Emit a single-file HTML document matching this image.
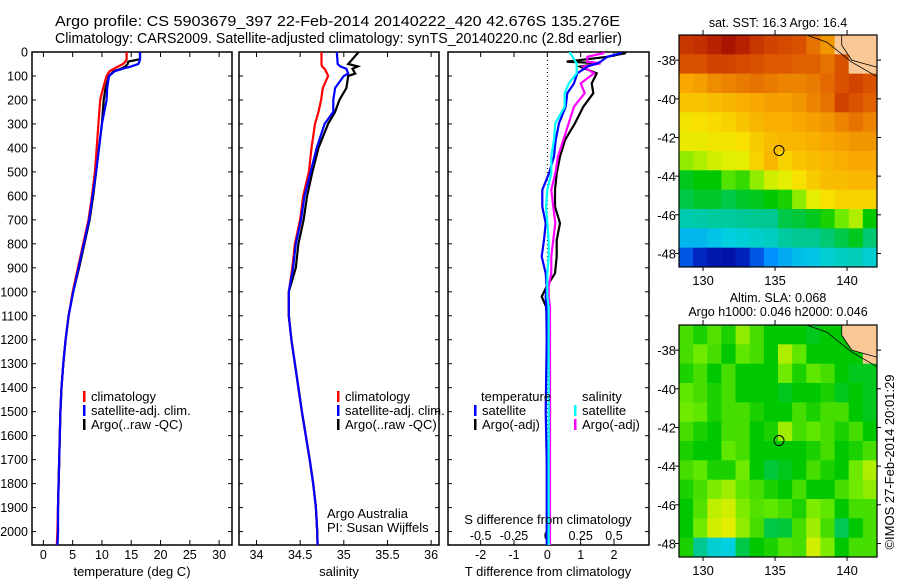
<!DOCTYPE html>
<html><head><meta charset="utf-8"><style>
html,body{margin:0;padding:0;background:#fff;}
svg{display:block;font-family:"Liberation Sans",sans-serif;}
</style></head><body>
<svg id="fig" width="900" height="580" viewBox="0 0 900 580" xmlns="http://www.w3.org/2000/svg">
<defs>
<clipPath id="clipMap1"><rect x="679" y="35" width="198" height="232"/></clipPath>
<clipPath id="clipMap2"><rect x="679" y="325" width="198" height="232"/></clipPath>
</defs>
<text x="55" y="26" font-size="14.5" textLength="565" lengthAdjust="spacingAndGlyphs">Argo profile: CS 5903679_397 22-Feb-2014 20140222_420 42.676S 135.276E</text>
<text x="55" y="43" font-size="14.5" textLength="567" lengthAdjust="spacingAndGlyphs">Climatology: CARS2009. Satellite-adjusted climatology: synTS_20140220.nc (2.8d earlier)</text>
<g id="g"></g>
</svg>
<script>
// ---- depth grids ----
const depthsT = [0,30,40,50,60,70,80,100,150,200,300,400,500,600,700,800,900,1000,1100,1200,1300,1400,1500,1600,1700,1800,1900,2000,2056];
const tempClim = [14.2,14.2,14.0,13.6,12.8,12.0,11.3,10.8,10.2,9.7,9.4,9.1,8.8,8.3,7.7,6.8,5.9,5.0,4.3,3.8,3.4,3.1,2.9,2.8,2.7,2.6,2.5,2.4,2.3];
const tempSat  = [16.5,16.5,16.4,16.2,15.0,13.5,12.2,11.2,10.9,10.8,10.0,9.5,9.0,8.4,7.8,6.9,6.0,5.1,4.3,3.8,3.4,3.1,2.9,2.8,2.7,2.6,2.5,2.5,2.4];
const tempArgo = [16.5,16.5,14.5,14.4,14.0,13.2,12.0,11.2,10.6,10.3,10.0,9.5,9.0,8.5,7.9,7.0,6.1,5.1,4.3,3.8,3.4,3.1,2.9,2.8,2.7,2.6,2.5,2.5,2.4];
const depthsS = [0,50,60,70,90,100,150,200,250,300,400,500,600,700,800,900,1000,1100,1200,1300,1400,1500,1600,1700,1800,1900,2000,2056];
const salClim = [34.745,34.745,34.75,34.78,34.81,34.82,34.76,34.74,34.71,34.67,34.63,34.60,34.535,34.50,34.44,34.41,34.37,34.37,34.40,34.44,34.48,34.52,34.565,34.61,34.65,34.68,34.695,34.70];
const salSat  = [34.92,34.93,34.96,35.03,35.05,35.0,34.90,34.88,34.88,34.78,34.69,34.62,34.55,34.51,34.45,34.42,34.37,34.37,34.40,34.44,34.48,34.52,34.565,34.61,34.65,34.68,34.695,34.70];
const salArgo = [35.17,35.05,35.16,35.10,35.13,35.05,35.03,34.95,34.90,34.82,34.71,34.64,34.58,34.54,34.48,34.45,34.37,34.37,34.40,34.44,34.48,34.52,34.565,34.61,34.65,34.68,34.695,34.70];
// differences
const depthsD = [0,5,20,40,47,61,89,131,172,228,297,367,436,506,575,645,714,784,853,923,978,1020,1061,1200,1500,1700,2056];
const dTArgo = [2.33,2.33,1.8,0.58,1.58,0.98,1.48,1.33,1.38,1.08,0.83,0.53,0.38,0.28,0.23,0.23,0.38,0.28,0.28,0.23,-0.02,-0.17,-0.04,0.05,0.08,0.06,0.05];
const dTSat  = [2.2,2.2,1.8,1.6,1.5,1.2,0.9,0.8,0.6,0.55,0.35,0.25,0.2,0.05,-0.15,-0.15,-0.05,-0.1,-0.17,-0.05,-0.02,-0.05,-0.03,-0.02,-0.05,-0.02,-0.02];
const dSArgo = [0.42,0.42,0.30,0.30,0.40,0.27,0.35,0.25,0.28,0.20,0.16,0.12,0.08,0.06,0.03,0.045,0.06,0.045,0.03,0.03,0.01,0.01,0.02,0.02,0.02,0.02,0.02];
const dSSat  = [0.17,0.17,0.19,0.21,0.22,0.22,0.22,0.16,0.13,0.13,0.06,0.05,0.03,0.03,0.0,-0.01,0.0,0.01,0.01,0.0,0.0,0.0,0.01,0.01,0.01,0.01,0.01];
// tick labels
const depthTicks = [0,100,200,300,400,500,600,700,800,900,1000,1100,1200,1300,1400,1500,1600,1700,1800,1900,2000];
const tempTicks = [0,5,10,15,20,25,30];
const salTicks = [34,34.5,35,35.5,36];
const dTTicks = [-2,-1,0,1,2];
const dSTicks = [-0.5,-0.25,0,0.25,0.5];
const lonTicks = [130,135,140];
const latTicks = [-38,-40,-42,-44,-46,-48];
// map grids (1 deg cells, lon 128.3..142.3, lat -36.7..-48.7), colour index 0..1, -1 land
const sstGrid = [
[.92,.93,.95,.97,.95,.92,.9,.89,.88,.84,.8,-1,-1,-1],
[.88,.88,.9,.9,.89,.88,.87,.87,.86,.86,.84,.88,-1,-1],
[.78,.79,.81,.82,.83,.84,.83,.82,.82,.83,.85,.88,.9,.88],
[.74,.74,.75,.76,.77,.78,.79,.79,.8,.82,.84,.9,.88,.86],
[.69,.7,.71,.72,.74,.76,.77,.77,.78,.79,.8,.82,.84,.82],
[.67,.67,.68,.69,.7,.73,.75,.76,.76,.77,.78,.79,.8,.8],
[.6,.62,.64,.65,.66,.72,.76,.72,.74,.75,.76,.77,.78,.78],
[.48,.5,.5,.56,.54,.6,.64,.66,.7,.73,.75,.75,.76,.76],
[.45,.47,.47,.45,.47,.48,.5,.52,.6,.66,.7,.72,.72,.72],
[.36,.37,.38,.38,.39,.4,.4,.45,.46,.48,.52,.58,.62,.5],
[.26,.26,.28,.3,.31,.33,.34,.38,.4,.4,.42,.45,.48,.42],
[.14,.08,.05,.04,.07,.14,.2,.24,.27,.28,.32,.34,.35,.32]];
const slaGrid = [
[.55,.52,.56,.52,.6,.55,.5,.5,.5,.48,.5,.5,-1,-1],
[.55,.58,.55,.5,.57,.55,.5,.62,.57,.5,.5,.5,.5,-1],
[.52,.55,.5,.55,.5,.5,.5,.58,.52,.57,.55,.5,.48,.48],
[.57,.55,.52,.55,.5,.5,.5,.48,.5,.5,.52,.48,.5,.48],
[.58,.57,.52,.55,.55,.52,.5,.5,.55,.52,.55,.55,.5,.48],
[.55,.52,.5,.55,.55,.5,.52,.61,.55,.57,.55,.52,.55,.5],
[.52,.5,.5,.57,.55,.5,.5,.5,.5,.52,.55,.5,.52,.55],
[.55,.57,.52,.52,.58,.5,.46,.48,.5,.55,.52,.5,.58,.62],
[.52,.55,.59,.61,.57,.55,.52,.5,.55,.5,.5,.55,.58,.6],
[.5,.56,.63,.64,.59,.56,.57,.55,.52,.59,.57,.5,.55,.55],
[.5,.58,.64,.66,.6,.55,.45,.46,.55,.61,.55,.44,.5,.55],
[.52,.4,.32,.3,.45,.5,.52,.56,.55,.64,.59,.5,.55,.55]];
const landLon = [139.63,139.63,140.32,141.09,142.06,142.3,142.3];
const landLat = [-36.7,-37.22,-38.0,-38.16,-38.36,-38.36,-36.7];
const coastLon = [137.2,138.6,140.32,142.3];
const coastLat = [-36.7,-37.07,-38.1,-38.95];
const argoLon = 135.276, argoLat = -42.676;

const NS="http://www.w3.org/2000/svg";
const G=document.getElementById('g');
function el(tag,attrs,parent){const e=document.createElementNS(NS,tag);for(const k in attrs)e.setAttribute(k,attrs[k]);(parent||G).appendChild(e);return e;}
function txt(s,x,y,anchor,size,parent){const t=el('text',{x:x,y:y,'text-anchor':anchor||'start','font-size':size||13},parent);t.textContent=s;return t;}

const PT=52, PB=545, DMAX=2056;
const yD=d=>PT+d*(PB-PT)/DMAX;
function panel(name,x0,x1,vmin,vmax){
  const g=el('g',{});
  
  
  const r=el('rect',{x:x0,y:PT,width:x1-x0,height:PB-PT,fill:'#fff',stroke:'#000','stroke-width':1.5},g);
  
  
  return {g:g,sx:v=>x0+(v-vmin)*(x1-x0)/(vmax-vmin),x0:x0,x1:x1};
}
function line(p,vals,depths,col,name){
  const pts=vals.map((v,i)=>p.sx(v).toFixed(1)+','+yD(depths[i]).toFixed(1)).join(' ');
  const l=el('polyline',{points:pts,fill:'none',stroke:col,'stroke-width':2.2},p.g);
  
  
}
function yticks(p,labels){
  depthTicks.forEach(d=>{
    el('line',{x1:p.x0,x2:p.x0+4,y1:yD(d),y2:yD(d),stroke:'#000'},p.g);
    el('line',{x1:p.x1-4,x2:p.x1,y1:yD(d),y2:yD(d),stroke:'#000'},p.g);
    if(labels){const t=txt(String(d),28,yD(d)+4.5,'end',12.5,p.g);
      
      }
  });
}
function xticks(p,ticks,labelY){
  ticks.forEach(v=>{
    el('line',{x1:p.sx(v),x2:p.sx(v),y1:PT,y2:PT+5,stroke:'#000'},p.g);
    el('line',{x1:p.sx(v),x2:p.sx(v),y1:PB-5,y2:PB,stroke:'#000'},p.g);
    if(labelY){const t=txt(String(v),p.sx(v),labelY,'middle',12.5,p.g);
      
      }
  });
}
function legend(p,x,y,items){
  items.forEach((it,i)=>{
    el('rect',{x:x,y:y+i*14-10,width:2.5,height:11,fill:it[1]},p.g);
    const t=txt(it[0],x+8,y+i*14,'start',13,p.g);
    
    
  });
}
// panel 1 temperature
const p1=panel('temperature-panel',32,232,-1.94,32.2);
yticks(p1,true); xticks(p1,tempTicks,559);
line(p1,tempArgo,depthsT,'#000','argo-temperature-line');
line(p1,tempClim,depthsT,'#f00','climatology-temperature-line');
line(p1,tempSat,depthsT,'#00f','satellite-temperature-line');
legend(p1,83,401,[['climatology','#f00'],['satellite-adj. clim.','#00f'],['Argo(..raw -QC)','#000']]);
let t=txt('temperature (deg C)',132,576,'middle',13);


// panel 2 salinity
const p2=panel('salinity-panel',239,439,33.80,36.09);
yticks(p2,false); xticks(p2,salTicks,559);
line(p2,salArgo,depthsS,'#000','argo-salinity-line');
line(p2,salClim,depthsS,'#f00','climatology-salinity-line');
line(p2,salSat,depthsS,'#00f','satellite-salinity-line');
legend(p2,337,401,[['climatology','#f00'],['satellite-adj. clim.','#00f'],['Argo(..raw -QC)','#000']]);
t=txt('Argo Australia',327,518,'start',13);


t=txt('PI: Susan Wijffels',327,532,'start',13);


t=txt('salinity',339,576,'middle',13);


// panel 3 differences
const p3=panel('difference-panel',448,649,-2.98,3.05);
const sxS=v=>p3.sx(v*4);
yticks(p3,false); xticks(p3,dTTicks,559);
el('line',{x1:p3.sx(0),x2:p3.sx(0),y1:PT,y2:PB,stroke:'#000','stroke-dasharray':'1,3'},p3.g);
dSTicks.forEach(v=>{const tt=txt(String(v),sxS(v),540,'middle',12.5,p3.g);
  
  });
line(p3,dTArgo,depthsD,'#000','argo-t-diff-line');
line(p3,dSArgo.map(v=>v*4),depthsD,'#f0f','argo-s-diff-line');
line(p3,dTSat,depthsD,'#00f','satellite-t-diff-line');
line(p3,dSSat.map(v=>v*4),depthsD,'#0ff','satellite-s-diff-line');
t=txt('temperature',481,401,'start',13,p3.g);
t=txt('salinity',582,401,'start',13,p3.g);
legend(p3,474,415,[['satellite','#00f'],['Argo(-adj)','#000']]);
legend(p3,574,415,[['satellite','#0ff'],['Argo(-adj)','#f0f']]);
t=txt('S difference from climatology',548,524,'middle',13);

t=txt('T difference from climatology',548,576,'middle',13);


// ---- maps ----
const cstops=[[0,[0,0,140]],[.1,[0,48,208]],[.2,[0,144,255]],[.3,[0,208,224]],[.4,[0,200,144]],[.5,[0,200,0]],[.58,[110,235,0]],[.65,[224,240,0]],[.7,[248,224,0]],[.78,[248,168,0]],[.86,[224,96,0]],[.94,[192,40,0]],[1,[144,0,0]]];
function cmap(v){for(let i=1;i<cstops.length;i++){if(v<=cstops[i][0]){const a=cstops[i-1],b=cstops[i],f=(v-a[0])/(b[0]-a[0]);return 'rgb('+a[1].map((c,k)=>Math.round(c+(b[1][k]-c)*f)).join(',')+')';}}return 'rgb(144,0,0)';}
const MX0=679,MX1=877,LON0=128.33,LON1=142.08;
function drawMap(name,y0,y1,grid,titles,titleYs,clipId){
  const g=el('g',{});
  
  
  const inner=el('g',{'clip-path':'url(#'+clipId+')'},g);
  const LAT0=-36.7,LAT1=-48.7;
  const sx=lo=>MX0+(lo-LON0)*(MX1-MX0)/(LON1-LON0);
  const sy=la=>y0+(la-LAT0)*(y1-y0)/(LAT1-LAT0);
  const cw=(MX1-MX0)/grid[0].length, ch=(y1-y0)/grid.length;
  grid.forEach((row,r)=>row.forEach((v,c)=>{
    const cell=el('rect',{x:(MX0+c*cw).toFixed(2),y:(y0+r*ch).toFixed(2),width:(cw+0.6).toFixed(2),height:(ch+0.6).toFixed(2),fill:v<0?'#fac896':cmap(v)},inner);
    
    
  }));
  const land=el('polygon',{points:landLon.map((lo,i)=>sx(lo).toFixed(1)+','+sy(landLat[i]).toFixed(1)).join(' '),fill:'#fac896',stroke:'#000','stroke-width':0.8},inner);
  
  
  const cl=el('polyline',{points:coastLon.map((lo,i)=>sx(lo).toFixed(1)+','+sy(coastLat[i]).toFixed(1)).join(' '),fill:'none',stroke:'#000','stroke-width':0.8},inner);
  
  
  el('rect',{x:MX0,y:y0,width:MX1-MX0,height:y1-y0,fill:'none',stroke:'#000','stroke-width':1.2},g);
  lonTicks.forEach(lo=>{
    el('line',{x1:sx(lo),x2:sx(lo),y1:y0-5,y2:y0,stroke:'#000'},g);
    el('line',{x1:sx(lo),x2:sx(lo),y1:y1,y2:y1+4,stroke:'#000'},g);
    const tl=txt(String(lo),sx(lo),y1+18,'middle',13,g);
    
    
  });
  latTicks.forEach(la=>{
    el('line',{x1:MX0-4,x2:MX0,y1:sy(la),y2:sy(la),stroke:'#000'},g);
    el('line',{x1:MX1,x2:MX1+4,y1:sy(la),y2:sy(la),stroke:'#000'},g);
    const tl=txt(String(la),676,sy(la)+5,'end',13,g);
    
    
  });
  const c=el('circle',{cx:sx(argoLon),cy:sy(argoLat),r:5,fill:'none',stroke:'#000','stroke-width':1},g);
  
  
  titles.forEach((s,i)=>{const tl=txt(s,778,titleYs[i],'middle',12.5,g);
    
    });
}
drawMap('sst-map',35,267,sstGrid,['sat. SST: 16.3 Argo: 16.4'],[27],'clipMap1');
drawMap('sla-map',325,557,slaGrid,['Altim. SLA: 0.068','Argo h1000: 0.046 h2000: 0.046'],[302,316],'clipMap2');
t=el('text',{x:0,y:0,'font-size':13,'text-anchor':'middle',transform:'translate(894,462) rotate(-90)'});
t.textContent='\u00A9IMOS 27-Feb-2014 20:01:29';


</script>
</body></html>
